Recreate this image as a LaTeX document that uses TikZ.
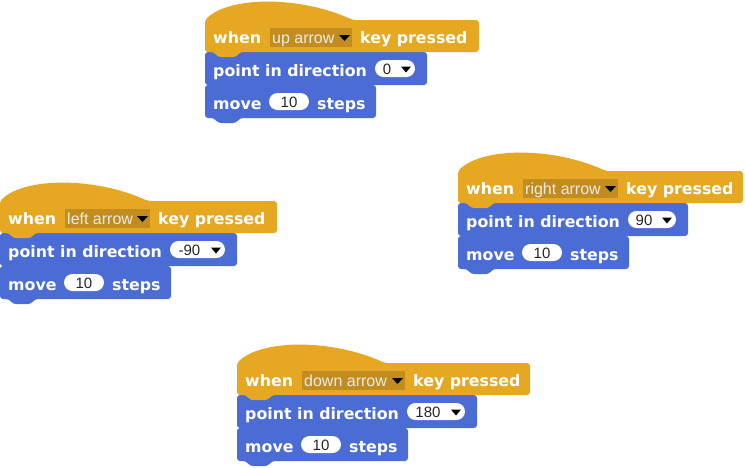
\documentclass[tikz,border=0pt]{standalone}
\usepackage{fontspec}
\newfontfamily\blockfont{DejaVu Sans}
\newfontfamily\ddfont{Liberation Sans}
\definecolor{evt}{HTML}{E6A822}
\definecolor{evtdark}{HTML}{C38C1E}
\definecolor{motion}{HTML}{4A6CD4}
\tikzset{
  lbl/.style={inner sep=0pt, text=white, font=\blockfont\bfseries\fontsize{15.8}{18}\selectfont, anchor=base west},
  ddlbl/.style={inner sep=0pt, text=white!92!black, font=\ddfont\fontsize{16}{18}\selectfont, anchor=base west},
  numlbl/.style={inner sep=0pt, text=black!85, font=\ddfont\fontsize{15}{18}\selectfont, anchor=base},
  hatshape/.style={fill=evt, rounded corners=3pt},
  stackshape/.style={fill=motion, rounded corners=3pt},
  ddbox/.style={fill=evtdark, inner sep=0pt, outer sep=0pt, anchor=north west, minimum height=19pt},
}
% #1 name, #2 x0, #3 y of hat top, #4 key, #5 dropdown right, #6 hat right,
% #7 direction, #8 oval right, #9 point block right
\newcommand\scratchscript[9]{%
\begin{scope}[shift={(#2,#3)}]
  \path[stackshape] (0,80) -- (0,65) -- (171,65) -- (171,98) -- (35,98) -- (31,103) -- (13,103) -- (9,98) -- (0,98) -- cycle;
  \path[stackshape] (0,48) -- (0,32) -- (#9,32) -- (#9,65) -- (35,65) -- (31,70) -- (13,70) -- (9,65) -- (0,65) -- cycle;
  \path[hatshape] (0,16) -- (0,0) .. controls (25,-24) and (95,-24) .. (148,0) -- (#6,0) -- (#6,32) -- (35,32) -- (31,37) -- (13,37) -- (9,32) -- (0,32) -- cycle;
  \node[lbl] (#1when) at (8,23) {when};
  \node[ddbox, minimum width={#5pt-64.5pt}] (#1dd) at (64.5,7.5) {};
  \node[ddlbl] (#1ddtext) at (67,23.5) {#4};
  \fill[black] ({#5-13},15) -- ({#5-2},15) -- ({#5-7.5},21) -- cycle;
  \node[lbl] (#1key) at ({#5+8},23) {key pressed};
  \node[lbl] (#1point) at (8,56.5) {point in direction};
  \fill[white, rounded corners=8.5pt] (170,40) rectangle (#8,57);
  \node[numlbl] (#1dir) at ({(170+#8-16)/2},54.5) {#7};
  \fill[black] ({#8-14},46.5) -- ({#8-4},46.5) -- ({#8-9},52.5) -- cycle;
  \node[lbl] (#1move) at (8,89.5) {move};
  \fill[white, rounded corners=8.5pt] (64,73) rectangle (104,90);
  \node[numlbl] (#1ten) at (84,87.5) {10};
  \node[lbl] (#1steps) at (112,89.5) {steps};
\end{scope}}
\begin{document}
\begin{tikzpicture}[x=1pt,y=-1pt]
  \useasboundingbox (0,0) rectangle (745,467);
  \scratchscript{up}{205}{20}{up arrow}{147}{274}{0}{210}{222}
  \scratchscript{right}{458}{171}{right arrow}{160}{285}{90}{218}{230}
  \scratchscript{left}{0}{201}{left arrow}{150}{277}{-90}{225}{237}
  \scratchscript{down}{237}{363}{down arrow}{168}{293}{180}{228}{240}
\end{tikzpicture}
\end{document}
